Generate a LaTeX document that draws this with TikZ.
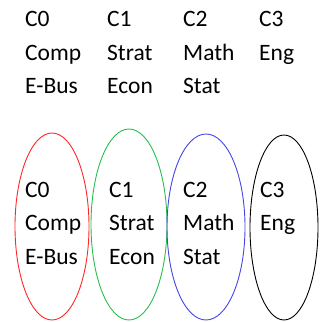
\documentclass[tikz,border=0pt]{standalone}
\usepackage{fontspec}
\setmainfont{Carlito}
\begin{document}
\begin{tikzpicture}[x=1pt,y=-1pt,
  lbl/.style={anchor=base west,inner sep=0pt,font=\fontsize{23.5}{28}\selectfont},
  ring/.style={line width=0.9pt}]
\useasboundingbox (0,0) rectangle (326,321);
% top block
\node[lbl] (t00) at (25,26.5) {C0};
\node[lbl] (t01) at (25,60) {Comp};
\node[lbl] (t02) at (25,93.5) {E-Bus};
\node[lbl] (t10) at (107,26.5) {C1};
\node[lbl] (t11) at (107,60) {Strat};
\node[lbl] (t12) at (107,93.5) {Econ};
\node[lbl] (t20) at (183,26.5) {C2};
\node[lbl] (t21) at (183,60) {Math};
\node[lbl] (t22) at (183,93.5) {Stat};
\node[lbl] (t30) at (259,26.5) {C3};
\node[lbl] (t31) at (259,60) {Eng};
% ellipses
\draw[ring,color={rgb,255:red,255;green,40;blue,40}] (52,226.5) ellipse [x radius=37,y radius=93.5];
\draw[ring,color={rgb,255:red,40;green,190;blue,80}] (129,224.5) ellipse [x radius=38,y radius=95.5];
\draw[ring,color={rgb,255:red,70;green,70;blue,230}] (206,227) ellipse [x radius=39,y radius=93];
\draw[ring,black] (284,227.5) ellipse [x radius=34,y radius=92.5];
% bottom block
\node[lbl] (b00) at (25,197) {C0};
\node[lbl] (b01) at (25,230) {Comp};
\node[lbl] (b02) at (25,264) {E-Bus};
\node[lbl] (b10) at (109,197) {C1};
\node[lbl] (b11) at (109,230) {Strat};
\node[lbl] (b12) at (109,264) {Econ};
\node[lbl] (b20) at (183,197) {C2};
\node[lbl] (b21) at (183,230) {Math};
\node[lbl] (b22) at (183,264) {Stat};
\node[lbl] (b30) at (260,197) {C3};
\node[lbl] (b31) at (260,230) {Eng};
\end{tikzpicture}
\end{document}
